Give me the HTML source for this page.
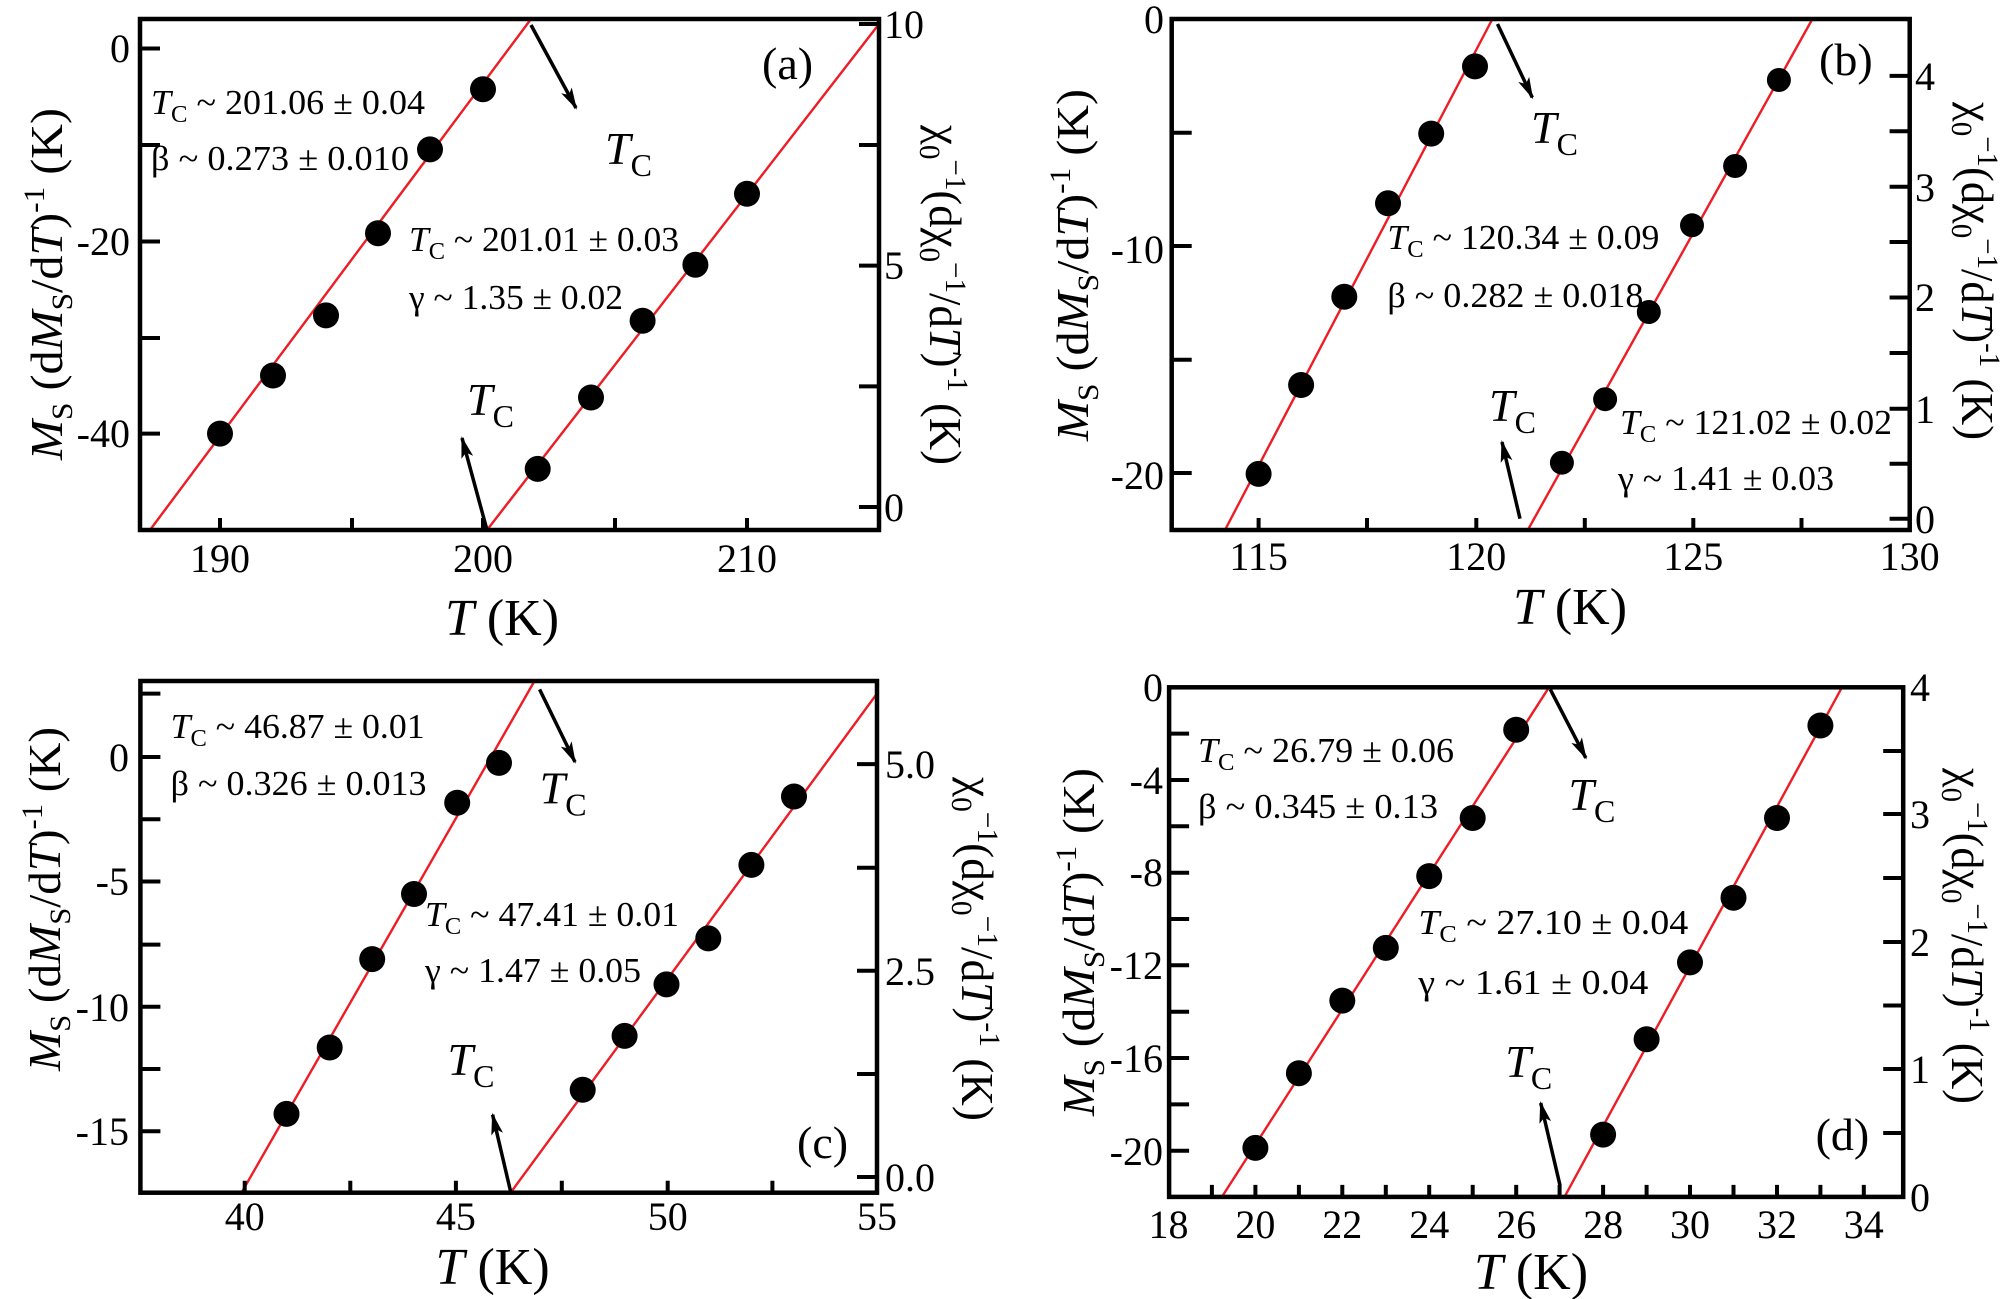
<!DOCTYPE html>
<html><head><meta charset="utf-8"><style>
html,body{margin:0;padding:0;background:#fff}
svg{display:block}
text{font-family:"Liberation Serif",serif;fill:#000}
.ax{fill:none;stroke:#000;stroke-width:4.5}
.tk{stroke:#000;stroke-width:4}
.fit{stroke:#ee1c24;stroke-width:2.4;fill:none}
.arr{stroke:#000;stroke-width:3.5;fill:none}
.tl{font-size:40px}
</style></head><body>
<svg width="2006" height="1299" viewBox="0 0 2006 1299" xmlns="http://www.w3.org/2000/svg">
<defs><marker id="ah" viewBox="0 0 22 12" refX="20" refY="6" markerWidth="22" markerHeight="12" markerUnits="userSpaceOnUse" orient="auto"><path d="M0,0 L22,6 L0,12 L5,6z" fill="#000"/></marker></defs>

<!-- ===== Panel a ===== -->
<line class="fit" x1="150" y1="530" x2="531" y2="19"/>
<line class="fit" x1="487" y1="530" x2="879" y2="24"/>
<rect class="ax" x="140" y="19" width="739" height="511"/>
<g class="tk">
<path d="M220,530v-12M352,530v-12M483,530v-12M615,530v-12M747,530v-12"/>
<path d="M140,48.5h20M140,145h20M140,241.5h20M140,338h20M140,433.6h20"/>
<path d="M879,24h-20M879,145h-20M879,265.6h-20M879,386.4h-20M879,507h-20"/>
</g>
<g class="tl" text-anchor="middle"><text x="220" y="572">190</text><text x="483" y="572">200</text><text x="747" y="572">210</text></g>
<g class="tl" text-anchor="end"><text x="130" y="62">0</text><text x="130" y="255">-20</text><text x="130" y="447">-40</text></g>
<g class="tl"><text x="884" y="38">10</text><text x="884" y="279">5</text><text x="884" y="521">0</text></g>
<g fill="#000"><ellipse cx="220" cy="433.6" rx="13" ry="13"/><ellipse cx="273" cy="375.5" rx="13" ry="13"/><ellipse cx="326" cy="315.4" rx="13" ry="13"/><ellipse cx="378" cy="233.2" rx="13" ry="13"/><ellipse cx="430" cy="149.4" rx="13" ry="13"/><ellipse cx="483" cy="89.2" rx="13" ry="13"/>
<ellipse cx="537.7" cy="468.9" rx="13" ry="13"/><ellipse cx="591" cy="397.5" rx="13" ry="13"/><ellipse cx="642.6" cy="320.7" rx="13" ry="13"/><ellipse cx="695.4" cy="264.7" rx="13" ry="13"/><ellipse cx="747" cy="193.8" rx="13" ry="13"/></g>
<line class="arr" x1="531" y1="25" x2="576" y2="108" marker-end="url(#ah)"/>
<line class="arr" x1="487" y1="530" x2="462" y2="438" marker-end="url(#ah)"/>
<text x="151" y="114" font-size="35" textLength="274" lengthAdjust="spacingAndGlyphs"><tspan font-style="italic">T</tspan><tspan font-size="24" dy="8">C</tspan><tspan dy="-8"> ~ 201.06 ± 0.04</tspan></text>
<text x="151" y="170" font-size="35" textLength="258" lengthAdjust="spacingAndGlyphs">β ~ 0.273 ± 0.010</text>
<text x="409" y="251" font-size="35" textLength="270" lengthAdjust="spacingAndGlyphs"><tspan font-style="italic">T</tspan><tspan font-size="24" dy="8">C</tspan><tspan dy="-8"> ~ 201.01 ± 0.03</tspan></text>
<text x="409" y="309" font-size="35" textLength="214" lengthAdjust="spacingAndGlyphs">γ ~ 1.35 ± 0.02</text>
<text x="605" y="164" font-size="46"><tspan font-style="italic">T</tspan><tspan font-size="32" dy="12">C</tspan></text>
<text x="467" y="415" font-size="46"><tspan font-style="italic">T</tspan><tspan font-size="32" dy="12">C</tspan></text>
<text x="762" y="79" font-size="46">(a)</text>
<text x="502" y="635" font-size="52" text-anchor="middle"><tspan font-style="italic">T</tspan> (K)</text>
<text transform="translate(62,284) rotate(-90)" text-anchor="middle" font-size="46" textLength="352" lengthAdjust="spacingAndGlyphs"><tspan font-style="italic">M</tspan><tspan font-size="30" dy="10">S</tspan><tspan dy="-10"> (d</tspan><tspan font-style="italic">M</tspan><tspan font-size="30" dy="10">S</tspan><tspan dy="-10">/d</tspan><tspan font-style="italic">T</tspan><tspan>)</tspan><tspan font-size="30" dy="-18">-1</tspan><tspan dy="18"> (K)</tspan></text>
<text transform="translate(930,295) rotate(90)" text-anchor="middle" font-size="46" textLength="340" lengthAdjust="spacingAndGlyphs">χ<tspan font-size="30" dy="10">0</tspan><tspan font-size="30" dy="-26">−1</tspan><tspan dy="16">(dχ</tspan><tspan font-size="30" dy="10">0</tspan><tspan font-size="30" dy="-26">−1</tspan><tspan dy="16">/d</tspan><tspan font-style="italic">T</tspan><tspan>)</tspan><tspan font-size="30" dy="-18">-1</tspan><tspan dy="18"> (K)</tspan></text>

<!-- ===== Panel b ===== -->
<line class="fit" x1="1225" y1="530" x2="1492.4" y2="19"/>
<line class="fit" x1="1527.8" y1="530" x2="1812.4" y2="19"/>
<rect class="ax" x="1171.7" y="19" width="738" height="511"/>
<g class="tk">
<path d="M1258.6,530v-12M1367,530v-12M1476.3,530v-12M1584.8,530v-12M1693.3,530v-12M1801.5,530v-12"/>
<path d="M1171.7,132.8h20M1171.7,246h20M1171.7,359.8h20M1171.7,473h20"/>
<path d="M1909.6,75.9h-20M1909.6,131.3h-20M1909.6,186.7h-20M1909.6,242h-20M1909.6,297.5h-20M1909.6,353h-20M1909.6,408.7h-20M1909.6,463.7h-20M1909.6,518.7h-20"/>
</g>
<g class="tl" text-anchor="middle"><text x="1258.6" y="570">115</text><text x="1476.3" y="570">120</text><text x="1693.3" y="570">125</text><text x="1909.6" y="570">130</text></g>
<g class="tl" text-anchor="end"><text x="1164" y="33">0</text><text x="1164" y="263">-10</text><text x="1164" y="489">-20</text></g>
<g class="tl"><text x="1915" y="90">4</text><text x="1915" y="201">3</text><text x="1915" y="311">2</text><text x="1915" y="423">1</text><text x="1915" y="533">0</text></g>
<g fill="#000"><circle cx="1258.6" cy="473.9" r="13"/><circle cx="1301.1" cy="385" r="13"/><circle cx="1344.3" cy="296.7" r="13"/><circle cx="1388" cy="203.3" r="13"/><circle cx="1431.2" cy="133.6" r="13"/><circle cx="1475" cy="66.4" r="13"/>
<circle cx="1561.9" cy="462.7" r="12"/><circle cx="1605.1" cy="399.2" r="12"/><circle cx="1648.8" cy="312" r="12"/><circle cx="1692" cy="225.3" r="12"/><circle cx="1735.1" cy="166" r="12"/><circle cx="1778.9" cy="80" r="12"/></g>
<line class="arr" x1="1497.5" y1="24" x2="1532.3" y2="97.5" marker-end="url(#ah)"/>
<line class="arr" x1="1520" y1="518.7" x2="1502" y2="442" marker-end="url(#ah)"/>
<text x="1387.4" y="249" font-size="35" textLength="272" lengthAdjust="spacingAndGlyphs"><tspan font-style="italic">T</tspan><tspan font-size="24" dy="8">C</tspan><tspan dy="-8"> ~ 120.34 ± 0.09</tspan></text>
<text x="1387.4" y="307" font-size="35" textLength="256" lengthAdjust="spacingAndGlyphs">β ~ 0.282 ± 0.018</text>
<text x="1620" y="434" font-size="35" textLength="272" lengthAdjust="spacingAndGlyphs"><tspan font-style="italic">T</tspan><tspan font-size="24" dy="8">C</tspan><tspan dy="-8"> ~ 121.02 ± 0.02</tspan></text>
<text x="1618" y="490" font-size="35" textLength="216" lengthAdjust="spacingAndGlyphs">γ ~ 1.41 ± 0.03</text>
<text x="1531" y="143" font-size="46"><tspan font-style="italic">T</tspan><tspan font-size="32" dy="12">C</tspan></text>
<text x="1489" y="421" font-size="46"><tspan font-style="italic">T</tspan><tspan font-size="32" dy="12">C</tspan></text>
<text x="1819" y="75" font-size="46">(b)</text>
<text x="1570" y="624" font-size="52" text-anchor="middle"><tspan font-style="italic">T</tspan> (K)</text>
<text transform="translate(1088,265) rotate(-90)" text-anchor="middle" font-size="46" textLength="352" lengthAdjust="spacingAndGlyphs"><tspan font-style="italic">M</tspan><tspan font-size="30" dy="10">S</tspan><tspan dy="-10"> (d</tspan><tspan font-style="italic">M</tspan><tspan font-size="30" dy="10">S</tspan><tspan dy="-10">/d</tspan><tspan font-style="italic">T</tspan><tspan>)</tspan><tspan font-size="30" dy="-18">-1</tspan><tspan dy="18"> (K)</tspan></text>
<text transform="translate(1962,271) rotate(90)" text-anchor="middle" font-size="46" textLength="338" lengthAdjust="spacingAndGlyphs">χ<tspan font-size="30" dy="10">0</tspan><tspan font-size="30" dy="-26">−1</tspan><tspan dy="16">(dχ</tspan><tspan font-size="30" dy="10">0</tspan><tspan font-size="30" dy="-26">−1</tspan><tspan dy="16">/d</tspan><tspan font-style="italic">T</tspan><tspan>)</tspan><tspan font-size="30" dy="-18">-1</tspan><tspan dy="18"> (K)</tspan></text>

<!-- ===== Panel c ===== -->
<line class="fit" x1="241.5" y1="1192.7" x2="534.5" y2="681"/>
<line class="fit" x1="510.6" y1="1192.7" x2="877" y2="693.6"/>
<rect class="ax" x="140.4" y="681" width="736.6" height="511.7"/>
<g class="tk">
<path d="M244.7,1192.7v-12M350.3,1192.7v-12M455.9,1192.7v-12M561.8,1192.7v-12M667.7,1192.7v-12M772.4,1192.7v-12"/>
<path d="M140.4,693.6h20M140.4,757h20M140.4,819.3h20M140.4,881.5h20M140.4,944.6h20M140.4,1006.8h20M140.4,1069h20M140.4,1131.3h20"/>
<path d="M877,764.1h-20M877,867.8h-20M877,970.7h-20M877,1074h-20M877,1177h-20"/>
</g>
<g class="tl" text-anchor="middle"><text x="244.7" y="1230">40</text><text x="455.9" y="1230">45</text><text x="667.7" y="1230">50</text><text x="877" y="1230">55</text></g>
<g class="tl" text-anchor="end"><text x="129" y="771">0</text><text x="129" y="895">-5</text><text x="129" y="1021">-10</text><text x="129" y="1145">-15</text></g>
<g class="tl"><text x="885" y="778">5.0</text><text x="885" y="985">2.5</text><text x="885" y="1191">0.0</text></g>
<g fill="#000"><circle cx="286.5" cy="1113.9" r="13"/><circle cx="329.7" cy="1047.5" r="13"/><circle cx="372.2" cy="959.1" r="13"/><circle cx="414" cy="894" r="13"/><circle cx="457.2" cy="802.7" r="13"/><circle cx="499" cy="762.9" r="13"/>
<circle cx="582.7" cy="1089.8" r="13"/><circle cx="624.6" cy="1035.9" r="13"/><circle cx="666.5" cy="984.4" r="13"/><circle cx="708.3" cy="938.4" r="13"/><circle cx="751.4" cy="864.9" r="13"/><circle cx="794" cy="796.5" r="13"/></g>
<line class="arr" x1="539.6" y1="689.4" x2="575" y2="762" marker-end="url(#ah)"/>
<line class="arr" x1="510.6" y1="1191.5" x2="492.6" y2="1114.7" marker-end="url(#ah)"/>
<text x="170.6" y="738" font-size="35" textLength="254" lengthAdjust="spacingAndGlyphs"><tspan font-style="italic">T</tspan><tspan font-size="24" dy="8">C</tspan><tspan dy="-8"> ~ 46.87 ± 0.01</tspan></text>
<text x="170.6" y="795" font-size="35" textLength="256" lengthAdjust="spacingAndGlyphs">β ~ 0.326 ± 0.013</text>
<text x="425" y="926" font-size="35" textLength="254" lengthAdjust="spacingAndGlyphs"><tspan font-style="italic">T</tspan><tspan font-size="24" dy="8">C</tspan><tspan dy="-8"> ~ 47.41 ± 0.01</tspan></text>
<text x="425" y="982" font-size="35" textLength="216" lengthAdjust="spacingAndGlyphs">γ ~ 1.47 ± 0.05</text>
<text x="539.6" y="803.5" font-size="46"><tspan font-style="italic">T</tspan><tspan font-size="32" dy="12">C</tspan></text>
<text x="447.5" y="1075" font-size="46"><tspan font-style="italic">T</tspan><tspan font-size="32" dy="12">C</tspan></text>
<text x="797" y="1158" font-size="46">(c)</text>
<text x="492.6" y="1284" font-size="52" text-anchor="middle"><tspan font-style="italic">T</tspan> (K)</text>
<text transform="translate(60,899) rotate(-90)" text-anchor="middle" font-size="46" textLength="344" lengthAdjust="spacingAndGlyphs"><tspan font-style="italic">M</tspan><tspan font-size="30" dy="10">S</tspan><tspan dy="-10"> (d</tspan><tspan font-style="italic">M</tspan><tspan font-size="30" dy="10">S</tspan><tspan dy="-10">/d</tspan><tspan font-style="italic">T</tspan><tspan>)</tspan><tspan font-size="30" dy="-18">-1</tspan><tspan dy="18"> (K)</tspan></text>
<text transform="translate(962,949) rotate(90)" text-anchor="middle" font-size="46" textLength="344" lengthAdjust="spacingAndGlyphs">χ<tspan font-size="30" dy="10">0</tspan><tspan font-size="30" dy="-26">−1</tspan><tspan dy="16">(dχ</tspan><tspan font-size="30" dy="10">0</tspan><tspan font-size="30" dy="-26">−1</tspan><tspan dy="16">/d</tspan><tspan font-style="italic">T</tspan><tspan>)</tspan><tspan font-size="30" dy="-18">-1</tspan><tspan dy="18"> (K)</tspan></text>

<!-- ===== Panel d ===== -->
<line class="fit" x1="1221.9" y1="1196.9" x2="1549" y2="687.3"/>
<line class="fit" x1="1564.5" y1="1196.9" x2="1842" y2="687.3"/>
<rect class="ax" x="1169.1" y="687.3" width="734.1" height="509.6"/>
<g class="tk">
<path d="M1211.9,1196.9v-12M1255.4,1196.9v-12M1298.9,1196.9v-12M1342.3,1196.9v-12M1385.8,1196.9v-12M1429.2,1196.9v-12M1472.7,1196.9v-12M1516.2,1196.9v-12M1559.6,1196.9v-12M1603.1,1196.9v-12M1646.6,1196.9v-12M1690,1196.9v-12M1733.5,1196.9v-12M1777,1196.9v-12M1820.4,1196.9v-12M1863.8,1196.9v-12"/>
<path d="M1169.1,733.6h20M1169.1,780h20M1169.1,826.3h20M1169.1,872.7h20M1169.1,919h20M1169.1,965.3h20M1169.1,1011.7h20M1169.1,1058h20M1169.1,1104.4h20M1169.1,1150.7h20"/>
<path d="M1903.2,751h-20M1903.2,814h-20M1903.2,878h-20M1903.2,942h-20M1903.2,1005.5h-20M1903.2,1069h-20M1903.2,1133h-20"/>
</g>
<g class="tl" text-anchor="middle"><text x="1168.5" y="1238">18</text><text x="1255.4" y="1238">20</text><text x="1342.3" y="1238">22</text><text x="1429.2" y="1238">24</text><text x="1516.2" y="1238">26</text><text x="1603.1" y="1238">28</text><text x="1690" y="1238">30</text><text x="1777" y="1238">32</text><text x="1863.8" y="1238">34</text></g>
<g class="tl" text-anchor="end"><text x="1163" y="701">0</text><text x="1163" y="794">-4</text><text x="1163" y="886">-8</text><text x="1163" y="979">-12</text><text x="1163" y="1072">-16</text><text x="1163" y="1165">-20</text></g>
<g class="tl"><text x="1910" y="701">4</text><text x="1910" y="828">3</text><text x="1910" y="956">2</text><text x="1910" y="1083">1</text><text x="1910" y="1211">0</text></g>
<g fill="#000"><circle cx="1255.4" cy="1147.9" r="13"/><circle cx="1298.9" cy="1073.2" r="13"/><circle cx="1342.3" cy="1000.6" r="13"/><circle cx="1385.8" cy="947.9" r="13"/><circle cx="1429.2" cy="876.1" r="13"/><circle cx="1472.7" cy="818" r="13"/><circle cx="1516.2" cy="729.7" r="13"/>
<circle cx="1603.1" cy="1134.6" r="13"/><circle cx="1646.6" cy="1039.2" r="13"/><circle cx="1690" cy="962.4" r="13"/><circle cx="1733.5" cy="897.7" r="13"/><circle cx="1777" cy="818" r="13"/><circle cx="1820.4" cy="725.5" r="13"/></g>
<line class="arr" x1="1550.3" y1="689.4" x2="1585.8" y2="757.9" marker-end="url(#ah)"/>
<line class="arr" x1="1560" y1="1185.3" x2="1540.7" y2="1103" marker-end="url(#ah)"/>
<text x="1198" y="762" font-size="35" textLength="256" lengthAdjust="spacingAndGlyphs"><tspan font-style="italic">T</tspan><tspan font-size="24" dy="8">C</tspan><tspan dy="-8"> ~ 26.79 ± 0.06</tspan></text>
<text x="1198" y="818" font-size="35" textLength="240" lengthAdjust="spacingAndGlyphs">β ~ 0.345 ± 0.13</text>
<text x="1418.3" y="934" font-size="35" textLength="270" lengthAdjust="spacingAndGlyphs"><tspan font-style="italic">T</tspan><tspan font-size="24" dy="8">C</tspan><tspan dy="-8"> ~ 27.10 ± 0.04</tspan></text>
<text x="1418.3" y="994" font-size="35" textLength="230" lengthAdjust="spacingAndGlyphs">γ ~ 1.61 ± 0.04</text>
<text x="1568.4" y="810" font-size="46"><tspan font-style="italic">T</tspan><tspan font-size="32" dy="12">C</tspan></text>
<text x="1505.3" y="1077" font-size="46"><tspan font-style="italic">T</tspan><tspan font-size="32" dy="12">C</tspan></text>
<text x="1815.6" y="1150" font-size="46">(d)</text>
<text x="1531" y="1289" font-size="52" text-anchor="middle"><tspan font-style="italic">T</tspan> (K)</text>
<text transform="translate(1094,942) rotate(-90)" text-anchor="middle" font-size="46" textLength="348" lengthAdjust="spacingAndGlyphs"><tspan font-style="italic">M</tspan><tspan font-size="30" dy="10">S</tspan><tspan dy="-10"> (d</tspan><tspan font-style="italic">M</tspan><tspan font-size="30" dy="10">S</tspan><tspan dy="-10">/d</tspan><tspan font-style="italic">T</tspan><tspan>)</tspan><tspan font-size="30" dy="-18">-1</tspan><tspan dy="18"> (K)</tspan></text>
<text transform="translate(1952,936) rotate(90)" text-anchor="middle" font-size="46" textLength="336" lengthAdjust="spacingAndGlyphs">χ<tspan font-size="30" dy="10">0</tspan><tspan font-size="30" dy="-26">−1</tspan><tspan dy="16">(dχ</tspan><tspan font-size="30" dy="10">0</tspan><tspan font-size="30" dy="-26">−1</tspan><tspan dy="16">/d</tspan><tspan font-style="italic">T</tspan><tspan>)</tspan><tspan font-size="30" dy="-18">-1</tspan><tspan dy="18"> (K)</tspan></text>
</svg>
</body></html>
